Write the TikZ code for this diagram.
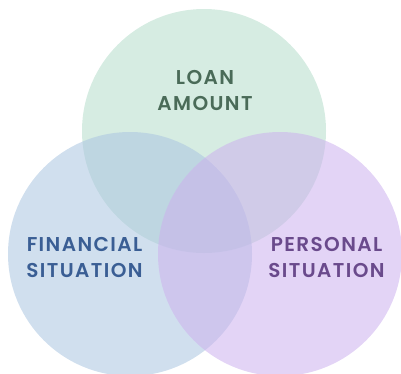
\documentclass[tikz,border=0pt]{standalone}
\usepackage{fontspec}
\setmainfont{Poppins}[UprightFont=* SemiBold, LetterSpace=7]
\definecolor{cgreen}{RGB}{180,220,202}
\definecolor{cblue}{RGB}{170,197,224}
\definecolor{cpurple}{RGB}{204,177,238}
\definecolor{tgreen}{RGB}{74,107,88}
\definecolor{tblue}{RGB}{58,94,148}
\definecolor{tpurple}{RGB}{106,74,140}
\begin{document}
\begin{tikzpicture}[x=1pt,y=-1pt,
  venn/.style={circle,minimum size=244pt,inner sep=0pt,fill opacity=0.55},
  lbl/.style={align=center,font=\fontsize{20}{26}\selectfont,inner sep=0pt}]
\useasboundingbox (0,0) rectangle (401,373);
\node[venn,fill=cgreen] (cg) at (204,131) {};
\node[venn,fill=cblue] (cb) at (130,254) {};
\node[venn,fill=cpurple] (cp) at (280,254) {};
\node[lbl,text=tgreen] (loan) at (205,90) {LOAN\\AMOUNT};
\node[lbl,text=tblue] (fin) at (84.5,257) {FINANCIAL\\SITUATION};
\node[lbl,text=tpurple] (pers) at (326.5,257) {PERSONAL\\SITUATION};
\end{tikzpicture}
\end{document}
